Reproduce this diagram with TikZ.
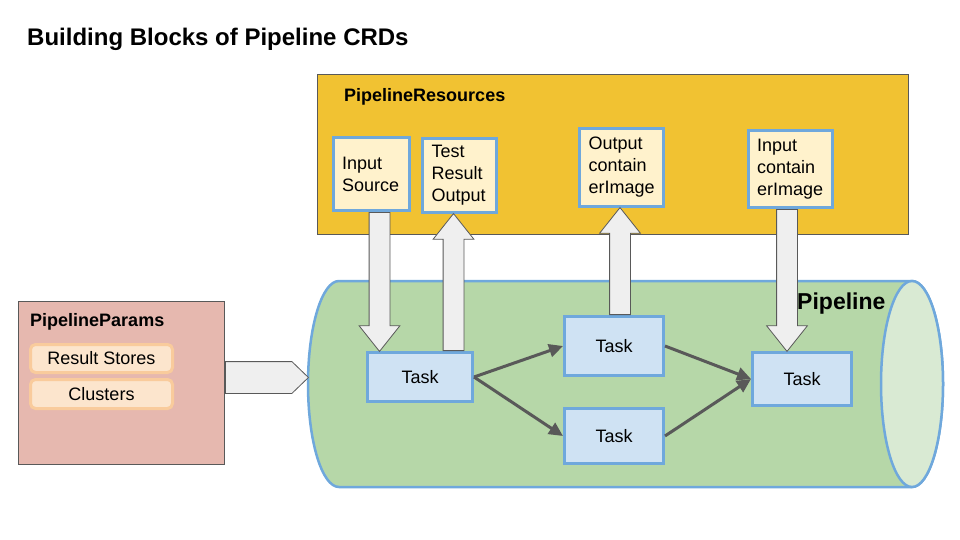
\documentclass[tikz,border=0pt]{standalone}
\usepackage{fontspec}
\setmainfont{Liberation Sans}
\usetikzlibrary{arrows.meta,calc,shapes.arrows}

\newlength{\du}
\setlength{\du}{1pt}

% fat grey arrow from #2 to #3
\newcommand{\blockarrow}[3][]{%
  \path let \p1=($(#3)-(#2)$), \n1={veclen(\x1,\y1)}, \n2={atan2(\y1,\x1)} in
    node[blockarrow,#1,minimum height=\n1,rotate=\n2,anchor=tail] at (#2) {};}

\begin{document}
\begin{tikzpicture}[x=1\du,y=-1\du,
  resbox/.style={draw=boxblue,line width=3\du,fill=resfill,align=left,text width=#1,
    inner xsep=9\du,font=\fontsize{18}{22}\selectfont},
  taskbox/.style={draw=boxblue,line width=3\du,fill=taskfill,font=\fontsize{18}{22}\selectfont},
  parambox/.style={draw=paramline,line width=3\du,fill=paramfill,rounded corners=5\du,
    minimum width=142\du,font=\fontsize{18}{22}\selectfont},
  headtext/.style={anchor=west,inner sep=0pt,font=\bfseries\fontsize{18}{22}\selectfont},
  flow/.style={draw=darkline,line width=3\du,-{Triangle[length=14pt,width=13pt]}},
  blockarrow/.style={single arrow,draw=darkline,line width=0.8\du,fill=arrowfill,
    inner xsep=0pt,inner ysep=10\du,single arrow head extend=10\du,single arrow tip angle=77}]
\definecolor{resyellow}{HTML}{F1C232}
\definecolor{resfill}{HTML}{FFF2CC}
\definecolor{boxblue}{HTML}{6FA8DC}
\definecolor{taskfill}{HTML}{CFE2F3}
\definecolor{paramred}{HTML}{E6B8AF}
\definecolor{paramfill}{HTML}{FCE5CD}
\definecolor{paramline}{HTML}{F9CB9C}
\definecolor{pipegreen}{HTML}{B6D7A8}
\definecolor{pipeend}{HTML}{D9EAD3}
\definecolor{darkline}{HTML}{595959}
\definecolor{arrowfill}{HTML}{EFEFEF}
\path[fill=white,use as bounding box] (0,0) rectangle (960,540);

\node[anchor=west,inner sep=0pt,font=\bfseries\fontsize{24}{29}\selectfont] (title) at (27,39)
  {Building Blocks of Pipeline CRDs};

% resources
\node[fill=resyellow,draw=darkline,line width=1\du,minimum width=591\du,minimum height=159\du]
  (resources) at (612.5,154.5) {};
\node[headtext] (restitle) at (344,97) {PipelineResources};
\node[resbox=58\du,minimum height=73\du] (insrc) at (371,174) {Input\\Source};
\node[resbox=56\du,minimum height=74\du] (testout) at (459.5,175.5) {Test\\Result\\Output};
\node[resbox=66\du,minimum height=78\du] (outimg) at (621.5,167.5) {Output\\contain\\erImage};
\node[resbox=66\du,minimum height=77\du] (inimg) at (790,169) {Input\\contain\\erImage};

% params
\node[fill=paramred,draw=darkline,line width=1\du,minimum width=206\du,minimum height=163\du]
  (params) at (121.5,383) {};
\node[headtext] (paramtitle) at (30,322) {PipelineParams};
\node[parambox,minimum height=28\du] (stores) at (101.5,358.5) {Result Stores};
\node[parambox,minimum height=29\du] (clusters) at (101.5,394) {Clusters};

% pipeline
\filldraw[fill=pipegreen,draw=boxblue,line width=2.5\du]
  (912,281) -- (339,281) arc[start angle=270,end angle=90,x radius=31,y radius=103]
  -- (912,487) arc[start angle=90,end angle=-90,x radius=31,y radius=103] -- cycle;
\filldraw[fill=pipeend,draw=boxblue,line width=2.5\du] (912,384) ellipse[x radius=31,y radius=103];
\coordinate (pipewest) at (308,384);
\node[anchor=west,inner sep=0pt,font=\bfseries\fontsize{23}{27}\selectfont] (pipetitle) at (797,304) {Pipeline};

\node[taskbox,minimum width=105\du,minimum height=49\du] (task1) at (420,377) {Task};
\node[taskbox,minimum width=99\du,minimum height=59\du] (task2) at (614,346) {Task};
\node[taskbox,minimum width=99\du,minimum height=55\du] (task3) at (614,436) {Task};
\node[taskbox,minimum width=99\du,minimum height=53\du] (task4) at (802,379) {Task};

\draw[flow] (task1.east) -- (task2.west);
\draw[flow] (task1.east) -- (task3.west);
\draw[flow] (task2.east) -- (task4.west);
\draw[flow] (task3.east) -- (task4.west);

% resources in and out
\coordinate (src-a) at ($(insrc.south)+(8.5,0)$);
\coordinate (src-b) at (src-a |- task1.north);
\coordinate (test-a) at ($(task1.north)+(33.5,0)$);
\coordinate (test-b) at (test-a |- testout.south);
\coordinate (out-a) at ($(task2.north)+(6,0)$);
\coordinate (out-b) at (out-a |- outimg.south);
\coordinate (in-a) at ($(inimg.south)+(-3,0)$);
\coordinate (in-b) at (in-a |- task4.north);
\coordinate (par-a) at ($(params.east)+(0,-5.5)$);
\coordinate (par-b) at (par-a -| pipewest);
\blockarrow{src-a}{src-b}
\blockarrow{test-a}{test-b}
\blockarrow{out-a}{out-b}
\blockarrow{in-a}{in-b}
\blockarrow[inner ysep=15.5\du,single arrow head extend=0pt,single arrow tip angle=88]{par-a}{par-b}
\end{tikzpicture}
\end{document}
